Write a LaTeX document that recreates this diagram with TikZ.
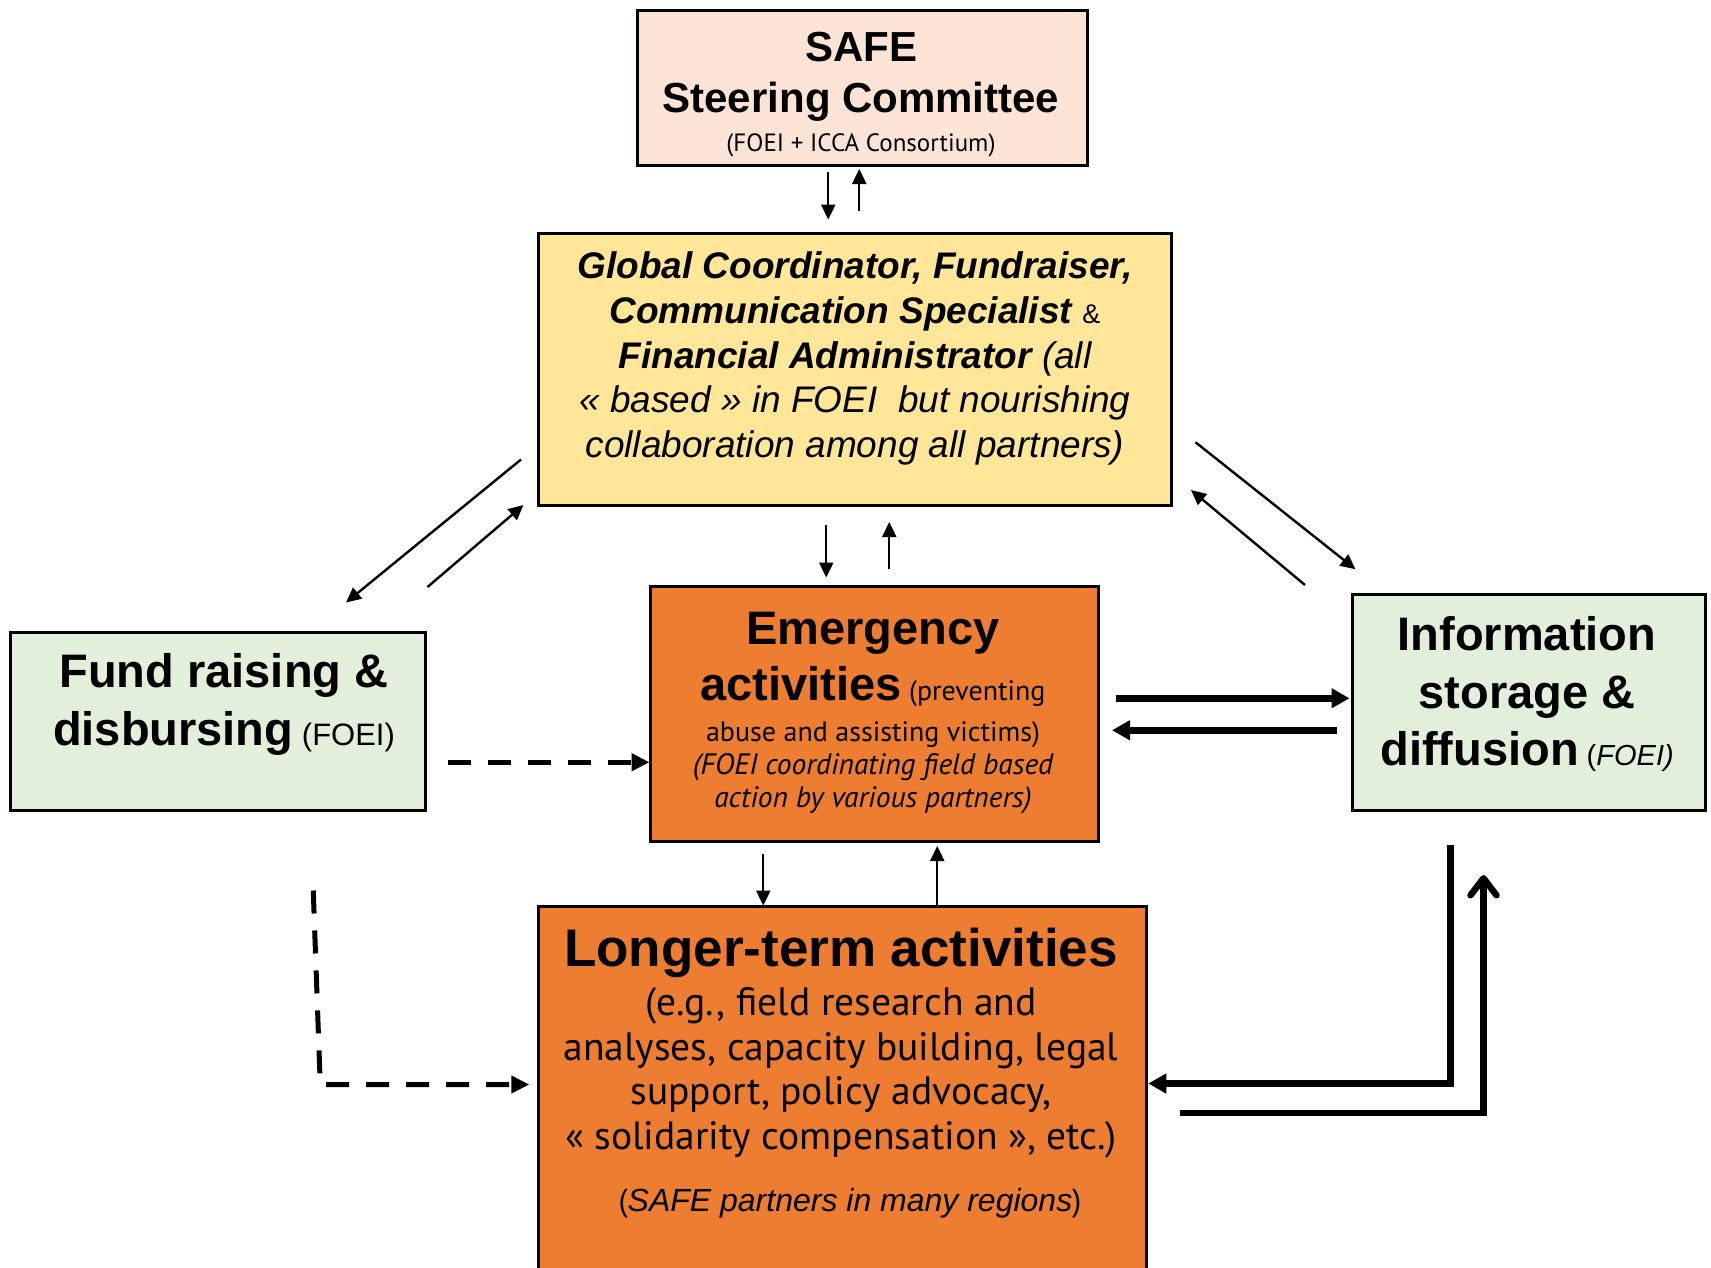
\documentclass[tikz,border=0pt]{standalone}
\usepackage{fontspec}
\setmainfont{Liberation Sans}
\newfontfamily\hum{PT Sans}
\usetikzlibrary{arrows.meta,calc}

\definecolor{peach}{RGB}{251,228,214}
\definecolor{gold}{RGB}{255,230,153}
\definecolor{tang}{RGB}{237,125,49}
\definecolor{sage}{RGB}{226,239,218}

\newcommand{\fs}[2]{\fontsize{#1}{#2}\selectfont}

\begin{document}
\begin{tikzpicture}[x=1pt,y=-1pt,
  box/.style={draw=black,line width=2.5pt,inner sep=0pt,anchor=north west},
  txt/.style={anchor=base,inner sep=0pt},
  thinarrow/.style={line width=2.4pt,-{Triangle[length=15pt,width=14pt]}},
  fatarrow/.style={line width=6.5pt,-{Triangle[length=18pt,width=19pt]}},
  dasharrow/.style={line width=5pt,dash pattern=on 23pt off 17pt,-{Triangle[length=18pt,width=17pt]}},
  barbarrow/.style={line width=6.5pt,-{Straight Barb[length=17pt,width=26pt,round]}},
  head/.style={font=\fs{47}{56}\bfseries},
]
\useasboundingbox (0,0) rectangle (1711,1267);
\fill[white] (0,0) rectangle (1711,1267);
\clip (0,0) rectangle (1711,1267);

% ---- boxes ----
\node[box,fill=peach,minimum width=450pt,minimum height=155pt] (safe) at (636,9) {};
\node[box,fill=gold,minimum width=633pt,minimum height=272pt] (coord) at (537,232) {};
\node[box,fill=tang,minimum width=448pt,minimum height=255pt] (emerg) at (649,585) {};
\node[box,fill=sage,minimum width=415pt,minimum height=178pt] (fund) at (9,631) {};
\node[box,fill=sage,minimum width=353pt,minimum height=216pt] (info) at (1351,593) {};
\node[box,fill=tang,minimum width=608pt,minimum height=400pt] (longer) at (537,905) {};

% ---- steering committee ----
\node[txt,font=\fs{42}{47}\bfseries] (safeA) at (861,61) {SAFE};
\node[txt,font=\fs{42}{47}\bfseries] (safeB) at (861,112) {Steering Committee};
\node[txt,font=\hum\fs{25}{29}] (safeC) at (861,151) {(FOEI + ICCA Consortium)};

% ---- coordination team ----
\node[txt,font=\fs{37}{44}\bfseries\itshape] (coA) at (855,278) {Global Coordinator, Fundraiser,};
\node[txt,font=\fs{37}{44}] (coB) at (855,323) {{\bfseries\itshape Communication Specialist} {\fs{27}{30}\&}};
\node[txt,font=\fs{37}{44}] (coC) at (855,368) {{\bfseries\itshape Financial Administrator} \itshape (all};
\node[txt,font=\fs{37}{44}\itshape] (coD) at (855,412) {«~based~» in FOEI~ but nourishing};
\node[txt,font=\fs{37}{44}\itshape] (coE) at (855,457) {collaboration among all partners)};

% ---- emergency activities ----
\node[txt,head] (emA) at (873,644) {Emergency};
\node[txt,head] (emB) at (873,700) {activities{\mdseries\hum\fs{28}{32} (preventing}};
\node[txt,font=\hum\fs{28}{32}] (emC) at (873,741) {abuse and assisting victims)};
\node[txt,font=\hum\fs{29.5}{33}\itshape] (emD) at (873,774) {(FOEI coordinating field based};
\node[txt,font=\hum\fs{29.5}{33}\itshape] (emE) at (873,807) {action by various partners)};

% ---- fund raising ----
\node[txt,head] (fuA) at (224,687) {Fund raising \&};
\node[txt,head] (fuB) at (224,745) {disbursing{\mdseries\fs{31}{35} (FOEI)}};

% ---- information ----
\node[txt,head] (inA) at (1527,650) {Information};
\node[txt,head] (inB) at (1527,708) {storage \&};
\node[txt,head] (inC) at (1527,765) {diffusion{\mdseries\fs{29}{33} (\textit{FOEI)}}};

% ---- longer-term activities ----
\node[txt,font=\fs{53}{60}\bfseries] (loA) at (841,966) {Longer-term activities};
\node[txt,font=\hum\fs{39.5}{45}] (loB) at (841,1015) {(e.g., field research and};
\node[txt,font=\hum\fs{39.5}{45}] (loC) at (841,1060) {analyses, capacity building, legal};
\node[txt,font=\hum\fs{39.5}{45}] (loD) at (841,1104) {support, policy advocacy,};
\node[txt,font=\hum\fs{39.5}{45}] (loE) at (841,1149) {«~solidarity compensation~», etc.)};
\node[txt,font=\fs{32}{36}] (loF) at (850,1211) {{\hum(}\textit{SAFE partners in many regions}{\hum)}};

% ---- connectors ----
% steering committee <-> coordination
\draw[thinarrow] ($(safe.south)+(-34,5)$) -- ++(0,48);
\draw[thinarrow] ($(coord.north)+(4.5,-21)$) -- ++(0,-42);
% coordination <-> fund raising
\draw[thinarrow] ($(coord.south west)+(-16,-47)$) -- ++(-175,143);
\draw[thinarrow] ($(fund.north east)+(1,-44)$) -- ++(96,-82);
% coordination <-> emergency
\draw[thinarrow] ($(coord.south)+(-28.5,18)$) -- ++(0,53);
\draw[thinarrow] ($(emerg.north)+(15,-16)$) -- ++(0,-47);
% coordination <-> information
\draw[thinarrow] ($(coord.east)+(23,73)$) -- ++(160,127);
\draw[thinarrow] ($(info.north west)+(-46,-8)$) -- ++(-114,-95);
% emergency <-> information
\draw[fatarrow] ($(emerg.east)+(16,-15.5)$) -- ++(234,0);
\draw[fatarrow] ($(info.west)+(-14,28)$) -- ++(-225,0);
% fund raising -> emergency / longer-term
\draw[dasharrow] ($(fund.east)+(21,41)$) -- ++(202,0);
\draw[dasharrow] ($(fund.south)+(95.5,79)$) -- ++(7,194) -- ++(209,0);
% emergency <-> longer-term
\draw[thinarrow] ($(emerg.south)+(-111,11)$) -- ++(0,52);
\draw[thinarrow] ($(longer.north)+(95,0)$) -- ++(0,-59);
% information <-> longer-term
\draw[fatarrow] ($(info.south)+(-78.5,33)$) -- ++(0,239) -- ++(-302,0);
\draw[barbarrow] ($(longer.north east)+(32,208)$) -- ++(304,0) -- ++(0,-238);
\end{tikzpicture}
\end{document}
